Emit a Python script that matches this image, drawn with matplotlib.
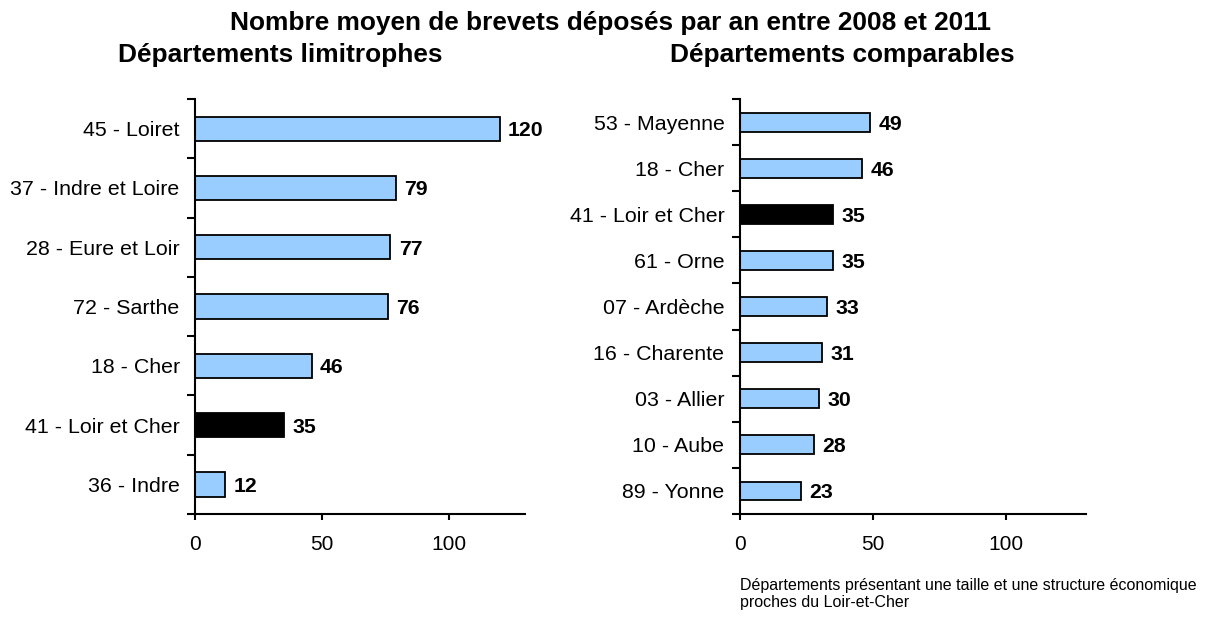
import matplotlib
matplotlib.use("Agg")
import matplotlib.pyplot as plt
import numpy as np

plt.rcParams['font.family'] = ['Liberation Sans', 'DejaVu Sans']

# data
leftLabels = ['45 - Loiret', '37 - Indre et Loire', '28 - Eure et Loir', '72 - Sarthe',
              '18 - Cher', '41 - Loir et Cher', '36 - Indre']
leftValues = [120, 79, 77, 76, 46, 35, 12]

rightLabels = ['53 - Mayenne', '18 - Cher', '41 - Loir et Cher', '61 - Orne', '07 - Ardèche',
               '16 - Charente', '03 - Allier', '10 - Aube', '89 - Yonne']
rightValues = [49, 46, 35, 35, 33, 31, 30, 28, 23]

highlight = '41 - Loir et Cher'
xTicks = [0, 50, 100]

title = 'Nombre moyen de brevets déposés par an entre 2008 et 2011'
leftTitle = 'Départements limitrophes'
rightTitle = 'Départements comparables'
note = 'Départements présentant une taille et une structure économique\nproches du Loir-et-Cher'

blue = '#99CCFF'


def drawPanel(ax, labels, values):
    n = len(labels)
    pos = np.arange(n)
    colors = ['black' if lab == highlight else blue for lab in labels]
    ax.barh(pos, values, height=0.41, color=colors, edgecolor='black', linewidth=1.3)
    for p, v in zip(pos, values):
        ax.annotate(str(v), (v, p), xytext=(6, 0), textcoords='offset points',
                    ha='left', va='center_baseline', fontsize=15.3, fontweight='bold')
    ax.set_ylim(n - 0.5, -0.5)
    ax.set_xlim(0, 130)
    ax.set_yticks(pos)
    ax.set_yticklabels(labels, fontsize=15.4)
    ax.set_yticks(np.arange(n + 1) - 0.5, minor=True)
    ax.tick_params(axis='y', which='major', length=0, pad=11)
    ax.tick_params(axis='y', which='minor', length=5.5, width=1.5, direction='out')
    ax.set_xticks(xTicks)
    ax.set_xticklabels([str(t) for t in xTicks], fontsize=15)
    ax.tick_params(axis='x', length=4, width=1.5, pad=11)
    for s in ['top', 'right']:
        ax.spines[s].set_visible(False)
    for s in ['left', 'bottom']:
        ax.spines[s].set_linewidth(1.5)


fig = plt.figure(figsize=(12.08, 6.22), dpi=100)
axL = fig.add_axes([0.1614, 0.1736, 0.2732, 0.6672])
axR = fig.add_axes([0.6123, 0.1736, 0.2864, 0.6672])
drawPanel(axL, leftLabels, leftValues)
drawPanel(axR, rightLabels, rightValues)

fig.text(611 / 1208, 1 - 23 / 622, title, ha='center', va='center', fontsize=18.9, fontweight='bold')
fig.text(280 / 1208, 1 - 55 / 622, leftTitle, ha='center', va='center', fontsize=18.9, fontweight='bold')
fig.text(842.5 / 1208, 1 - 55 / 622, rightTitle, ha='center', va='center', fontsize=18.9, fontweight='bold')
fig.text(740 / 1208, 1 - 594 / 622, note, ha='left', va='center', fontsize=11.5, linespacing=1.15)

fig.savefig('out.png', dpi=100)
